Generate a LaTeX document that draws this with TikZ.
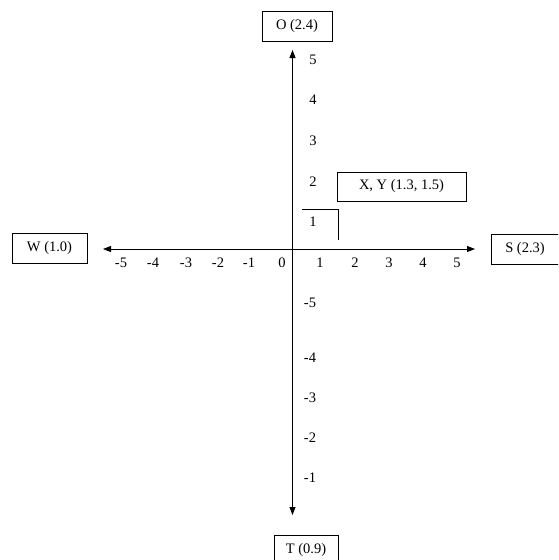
\documentclass[tikz,border=0pt]{standalone}
\usepackage{fontspec}
\setmainfont{Liberation Serif}
\usetikzlibrary{arrows.meta}
\begin{document}
\begin{tikzpicture}[x=1pt,y=-1pt,
  lbl/.style={draw,line width=0.8pt,inner sep=0pt,font=\fontsize{14.5}{16}\selectfont,anchor=center},
  tick/.style={inner sep=0pt,font=\fontsize{14.5}{16}\selectfont,anchor=center},
  axis/.style={line width=0.9pt,-{Triangle[length=8pt,width=6pt]}}]
\useasboundingbox (0,0) rectangle (558,560);
\clip (0,0) rectangle (558,560);
% origin
\coordinate (org) at (292.5,249);
% labelled boxes
\node[lbl,minimum width=70pt,minimum height=30pt] (O) at (297,26) {O (2.4)};
\node[lbl,minimum width=64pt,minimum height=30pt] (T) at (306,550) {T (0.9)};
\node[lbl,minimum width=75pt,minimum height=30pt] (W) at (49.5,248.5) {W (1.0)};
\node[lbl,minimum width=68pt,minimum height=30pt] (S) at (525,249) {S (2.3)};
\node[lbl,minimum width=129pt,minimum height=29pt] (XY) at (401.5,186.5) {X, Y (1.3, 1.5)};
% axis end points
\coordinate (top) at (292.5,50);
\coordinate (bot) at (292.5,515);
\coordinate (lft) at (103,249);
\coordinate (rgt) at (475,249);
\draw[axis] (org) -- (top);
\draw[axis] (org) -- (bot);
\draw[axis] (org) -- (lft);
\draw[axis] (org) -- (rgt);
% point marker
\coordinate (m1) at (302,209);
\coordinate (m2) at (338,209);
\coordinate (m3) at (338,240);
\draw[line width=0.8pt] (m1) -- (m2) -- (m3);
% horizontal tick labels
\foreach \t/\x in {-5/121,-4/153,-3/186,-2/218,-1/249,0/282,1/320,2/355,3/389,4/423,5/457}
  \node[tick] (h\t) at (\x,263) {\t};
% vertical tick labels
\foreach \t/\y in {5/60,4/100,3/141,2/182,1/222}
  \node[tick] (vp\t) at (313,\y) {\t};
\foreach \t/\y in {5/303,4/358,3/398,2/438,1/478}
  \node[tick] (vn\t) at (310,\y) {-\t};
\end{tikzpicture}
\end{document}
